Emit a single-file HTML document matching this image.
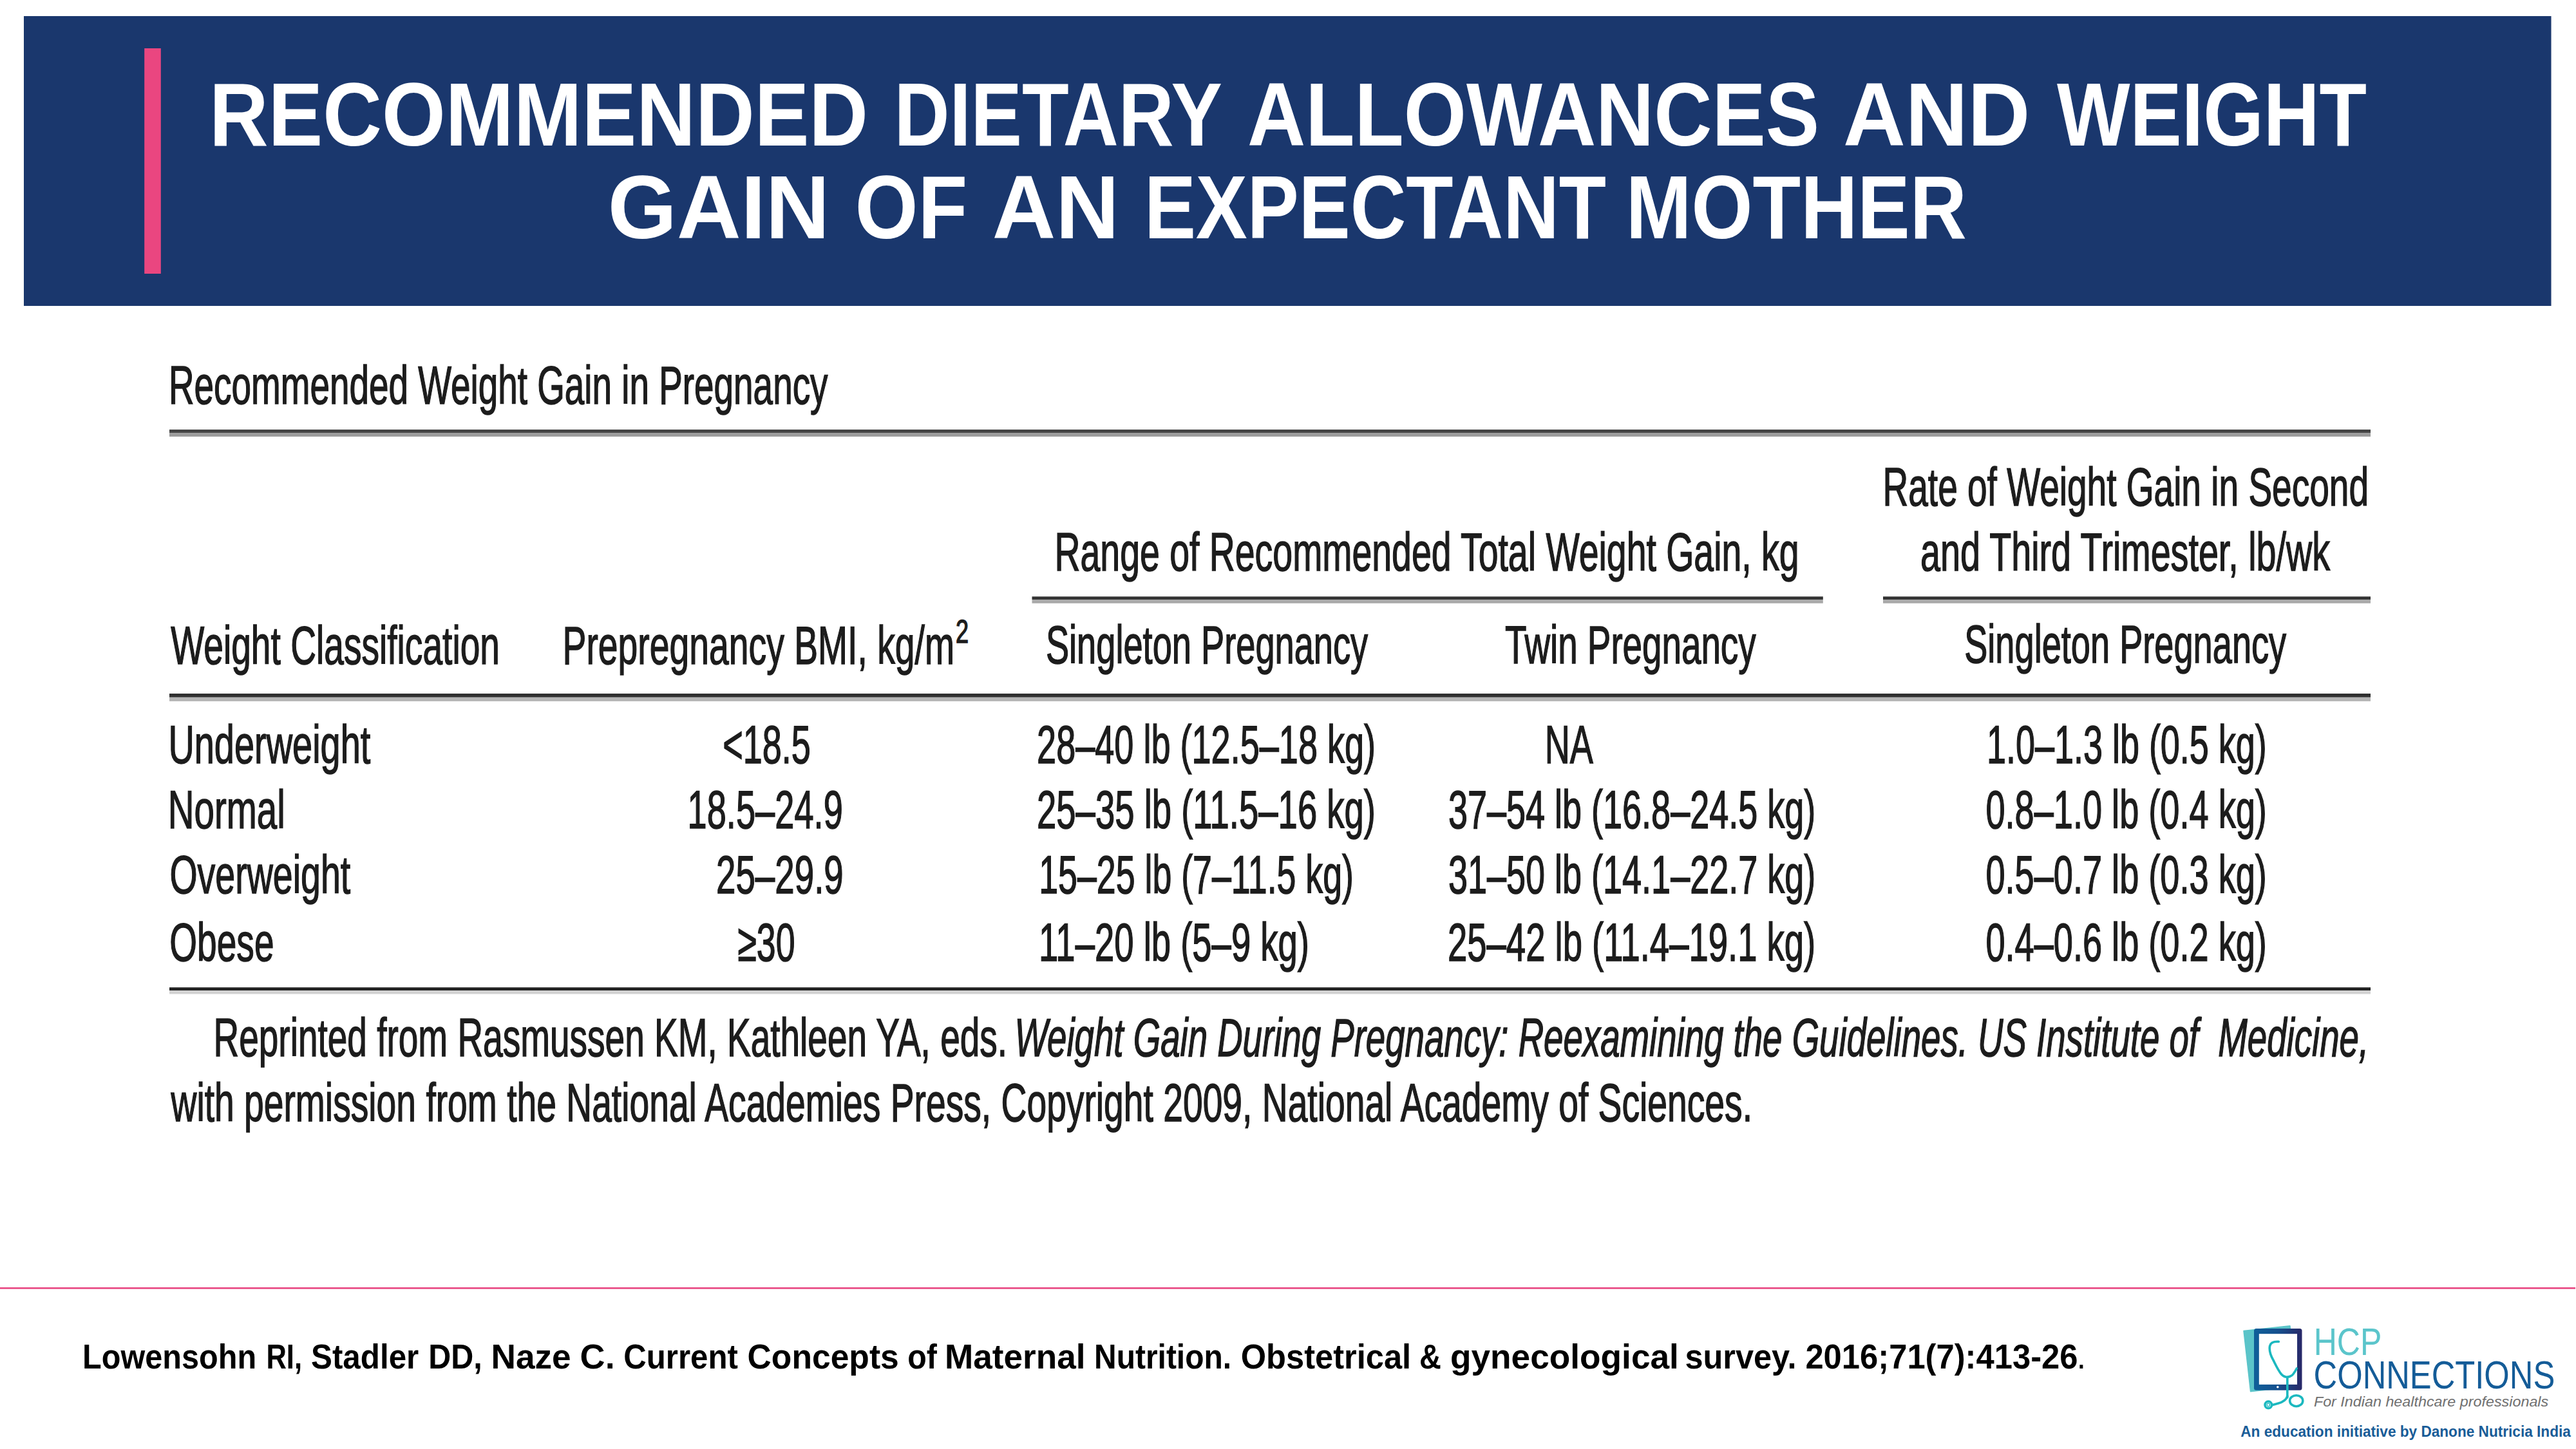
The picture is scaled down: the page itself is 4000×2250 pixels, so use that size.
<!DOCTYPE html>
<html><head><meta charset="utf-8"><title>Recommended Dietary Allowances and Weight Gain of an Expectant Mother</title>
<style>
html,body{margin:0;padding:0;background:#fff;}
body{width:4000px;height:2250px;overflow:hidden;position:relative;}
svg{position:absolute;left:0;top:0;display:block;}
text{font-family:"Liberation Sans",Arial,sans-serif;white-space:pre;}
.ttl{font-weight:bold;fill:#fff;}
.t{fill:#1c1c1c;stroke:#1c1c1c;stroke-width:1.5px;}
.ti{fill:#1c1c1c;font-style:italic;stroke:#1c1c1c;stroke-width:1.5px;}
.cit{font-weight:bold;fill:#000;}
.citn{fill:#000;}
.lg1{fill:#5bc5cb;}
.lg2{fill:#145c98;}
.lg3{fill:#707070;font-style:italic;}
.lg4{fill:#195c97;font-weight:bold;}
</style></head>
<body>
<svg width="4000" height="2250" viewBox="0 0 4000 2250">
<rect x="37" y="25" width="3924.5" height="450" fill="#1a376d"/>
<rect x="224.2" y="75" width="25.6" height="350" fill="#ea4680"/>
<rect x="263" y="667" width="3418" height="5" fill="#444"/>
<rect x="263" y="672" width="3418" height="6" fill="#9c9c9c"/>
<rect x="1602.5" y="926.3" width="1228.3" height="4.7" fill="#333"/>
<rect x="1602.5" y="931" width="1228.3" height="5.8" fill="#aaa"/>
<rect x="2924" y="926.3" width="757" height="4.7" fill="#333"/>
<rect x="2924" y="931" width="757" height="5.8" fill="#aaa"/>
<rect x="263" y="1077" width="3418" height="5.8" fill="#303030"/>
<rect x="263" y="1082.8" width="3418" height="6.1" fill="#b5b5b5"/>
<rect x="263" y="1533.2" width="3418" height="4.8" fill="#222"/>
<rect x="263" y="1538.3" width="3418" height="5.2" fill="#d2d2d2"/>
<rect x="0" y="1999" width="3999" height="2.5" fill="#e8417e"/>
<defs><linearGradient id="tg" x1="0" y1="0" x2="1" y2="0"><stop offset="0" stop-color="#0f5f99"/><stop offset="0.5" stop-color="#15508e"/><stop offset="1" stop-color="#282868"/></linearGradient></defs>
<polygon points="3484,2066.6 3555.9,2058.8 3566.5,2152.9 3494.6,2160.7" fill="#5bc4c9" stroke="#5bc4c9" stroke-width="1.5" stroke-linejoin="round"/>
<rect x="3500" y="2062.9" width="74.5" height="95.8" rx="3.5" fill="url(#tg)"/>
<rect x="3507.8" y="2071.2" width="59.2" height="78.7" fill="#fff"/>
<circle cx="3536.8" cy="2153.7" r="1.8" fill="#fff"/>
<g fill="none" stroke="#1bb8bf" stroke-width="3.6" stroke-linecap="round" stroke-linejoin="round">
<path d="M3538.3,2083.3 C3531,2082.8 3525.8,2084.5 3524.6,2090 C3523.2,2097 3526.5,2106 3530,2112.1 C3533,2118 3537,2127 3542.4,2133.8 C3545.5,2137.3 3548,2138.2 3550.7,2138.2 C3555,2138.2 3558.5,2137 3561,2133.5 C3563.5,2130 3565,2127.5 3566.3,2125"/>
<path d="M3551.8,2139 L3551.8,2170"/>
<ellipse cx="3565.7" cy="2175.2" rx="10.1" ry="8.5"/>
<path d="M3551.8,2168 C3550,2174 3545,2177 3538,2179 C3534,2180.2 3531,2181 3529,2181.4"/>
<circle cx="3522.3" cy="2181.4" r="5.3"/>
</g>
<circle cx="3522.3" cy="2181.4" r="2.2" fill="none" stroke="#1bb8bf" stroke-width="1.2"/>

<text class="ttl" x="324.9" y="226.3" font-size="139.5" textLength="1023.2" lengthAdjust="spacingAndGlyphs">RECOMMENDED</text>
<text class="ttl" x="1388.5" y="226.3" font-size="139.5" textLength="509.3" lengthAdjust="spacingAndGlyphs">DIETARY</text>
<text class="ttl" x="1937.0" y="226.3" font-size="139.5" textLength="888.1" lengthAdjust="spacingAndGlyphs">ALLOWANCES</text>
<text class="ttl" x="2861.9" y="226.3" font-size="139.5" textLength="290.3" lengthAdjust="spacingAndGlyphs">AND</text>
<text class="ttl" x="3194.0" y="226.3" font-size="139.5" textLength="481.0" lengthAdjust="spacingAndGlyphs">WEIGHT</text>
<text class="ttl" x="943.8" y="369.7" font-size="139.5" textLength="344.6" lengthAdjust="spacingAndGlyphs">GAIN</text>
<text class="ttl" x="1327.7" y="369.7" font-size="139.5" textLength="174.5" lengthAdjust="spacingAndGlyphs">OF</text>
<text class="ttl" x="1540.7" y="369.7" font-size="139.5" textLength="196.9" lengthAdjust="spacingAndGlyphs">AN</text>
<text class="ttl" x="1776.9" y="369.7" font-size="139.5" textLength="717.1" lengthAdjust="spacingAndGlyphs">EXPECTANT</text>
<text class="ttl" x="2524.8" y="369.7" font-size="139.5" textLength="529.2" lengthAdjust="spacingAndGlyphs">MOTHER</text>
<text class="t" x="262.0" y="627.0" font-size="82.5" textLength="1023.5" lengthAdjust="spacingAndGlyphs">Recommended Weight Gain in Pregnancy</text>
<text class="t" x="2923.5" y="785.0" font-size="82.5" textLength="754.5" lengthAdjust="spacingAndGlyphs">Rate of Weight Gain in Second</text>
<text class="t" x="1637.5" y="886.0" font-size="82.5" textLength="1156.1" lengthAdjust="spacingAndGlyphs">Range of Recommended Total Weight Gain, kg</text>
<text class="t" x="2982.0" y="886.0" font-size="82.5" textLength="636.0" lengthAdjust="spacingAndGlyphs">and Third Trimester, lb/wk</text>
<text class="t" x="265.2" y="1031.0" font-size="82.5" textLength="510.8" lengthAdjust="spacingAndGlyphs">Weight Classification</text>
<text class="t" x="873.5" y="1031.0" font-size="82.5" textLength="608.5" lengthAdjust="spacingAndGlyphs">Prepregnancy BMI, kg/m</text>
<text class="t" x="1483.9" y="998.0" font-size="49.5" textLength="20.1" lengthAdjust="spacingAndGlyphs">2</text>
<text class="t" x="1623.9" y="1030.0" font-size="82.5" textLength="500.3" lengthAdjust="spacingAndGlyphs">Singleton Pregnancy</text>
<text class="t" x="2337.1" y="1030.0" font-size="82.5" textLength="389.5" lengthAdjust="spacingAndGlyphs">Twin Pregnancy</text>
<text class="t" x="3050.2" y="1029.0" font-size="82.5" textLength="500.0" lengthAdjust="spacingAndGlyphs">Singleton Pregnancy</text>
<text class="t" x="261.4" y="1184.5" font-size="82.5" textLength="313.9" lengthAdjust="spacingAndGlyphs">Underweight</text>
<text class="t" x="260.8" y="1286.0" font-size="82.5" textLength="181.9" lengthAdjust="spacingAndGlyphs">Normal</text>
<text class="t" x="263.4" y="1387.0" font-size="82.5" textLength="280.8" lengthAdjust="spacingAndGlyphs">Overweight</text>
<text class="t" x="263.3" y="1492.0" font-size="82.5" textLength="162.2" lengthAdjust="spacingAndGlyphs">Obese</text>
<text class="t" x="1122.2" y="1184.5" font-size="82.5" textLength="136.7" lengthAdjust="spacingAndGlyphs">&lt;18.5</text>
<text class="t" x="1067.5" y="1286.0" font-size="82.5" textLength="241.3" lengthAdjust="spacingAndGlyphs">18.5–24.9</text>
<text class="t" x="1112.0" y="1387.0" font-size="82.5" textLength="197.8" lengthAdjust="spacingAndGlyphs">25–29.9</text>
<text class="t" x="1145.3" y="1492.0" font-size="82.5" textLength="89.3" lengthAdjust="spacingAndGlyphs">≥30</text>
<text class="t" x="1610.1" y="1184.5" font-size="82.5" textLength="526.0" lengthAdjust="spacingAndGlyphs">28–40 lb (12.5–18 kg)</text>
<text class="t" x="1610.0" y="1286.0" font-size="82.5" textLength="526.0" lengthAdjust="spacingAndGlyphs">25–35 lb (11.5–16 kg)</text>
<text class="t" x="1613.2" y="1387.0" font-size="82.5" textLength="488.8" lengthAdjust="spacingAndGlyphs">15–25 lb (7–11.5 kg)</text>
<text class="t" x="1613.1" y="1492.0" font-size="82.5" textLength="419.9" lengthAdjust="spacingAndGlyphs">11–20 lb (5–9 kg)</text>
<text class="t" x="2398.8" y="1184.5" font-size="82.5" textLength="75.1" lengthAdjust="spacingAndGlyphs">NA</text>
<text class="t" x="2249.0" y="1286.0" font-size="82.5" textLength="570.2" lengthAdjust="spacingAndGlyphs">37–54 lb (16.8–24.5 kg)</text>
<text class="t" x="2249.0" y="1387.0" font-size="82.5" textLength="570.2" lengthAdjust="spacingAndGlyphs">31–50 lb (14.1–22.7 kg)</text>
<text class="t" x="2248.0" y="1492.0" font-size="82.5" textLength="571.2" lengthAdjust="spacingAndGlyphs">25–42 lb (11.4–19.1 kg)</text>
<text class="t" x="3084.9" y="1184.5" font-size="82.5" textLength="434.9" lengthAdjust="spacingAndGlyphs">1.0–1.3 lb (0.5 kg)</text>
<text class="t" x="3083.4" y="1286.0" font-size="82.5" textLength="436.5" lengthAdjust="spacingAndGlyphs">0.8–1.0 lb (0.4 kg)</text>
<text class="t" x="3083.4" y="1387.0" font-size="82.5" textLength="436.5" lengthAdjust="spacingAndGlyphs">0.5–0.7 lb (0.3 kg)</text>
<text class="t" x="3083.4" y="1492.0" font-size="82.5" textLength="436.5" lengthAdjust="spacingAndGlyphs">0.4–0.6 lb (0.2 kg)</text>
<text class="t" x="331.5" y="1640.0" font-size="82.5" textLength="1232.6" lengthAdjust="spacingAndGlyphs">Reprinted from Rasmussen KM, Kathleen YA, eds.</text>
<text class="ti" x="1575.5" y="1640.0" font-size="82.5" textLength="2102.6" lengthAdjust="spacingAndGlyphs">Weight Gain During Pregnancy: Reexamining the Guidelines. US Institute of  Medicine,</text>
<text class="t" x="265.5" y="1741.0" font-size="82.5" textLength="2455.5" lengthAdjust="spacingAndGlyphs">with permission from the National Academies Press, Copyright 2009, National Academy of Sciences.</text>
<text class="cit" x="128.1" y="2125.2" font-size="53.0" textLength="270.1" lengthAdjust="spacingAndGlyphs">Lowensohn</text>
<text class="cit" x="413.4" y="2125.2" font-size="53.0" textLength="55.7" lengthAdjust="spacingAndGlyphs">RI,</text>
<text class="cit" x="483.0" y="2125.2" font-size="53.0" textLength="167.3" lengthAdjust="spacingAndGlyphs">Stadler</text>
<text class="cit" x="665.2" y="2125.2" font-size="53.0" textLength="83.5" lengthAdjust="spacingAndGlyphs">DD,</text>
<text class="cit" x="762.5" y="2125.2" font-size="53.0" textLength="124.2" lengthAdjust="spacingAndGlyphs">Naze</text>
<text class="cit" x="900.6" y="2125.2" font-size="53.0" textLength="54.1" lengthAdjust="spacingAndGlyphs">C.</text>
<text class="cit" x="968.2" y="2125.2" font-size="53.0" textLength="177.7" lengthAdjust="spacingAndGlyphs">Current</text>
<text class="cit" x="1160.6" y="2125.2" font-size="53.0" textLength="235.2" lengthAdjust="spacingAndGlyphs">Concepts</text>
<text class="cit" x="1409.2" y="2125.2" font-size="53.0" textLength="45.7" lengthAdjust="spacingAndGlyphs">of</text>
<text class="cit" x="1467.0" y="2125.2" font-size="53.0" textLength="218.5" lengthAdjust="spacingAndGlyphs">Maternal</text>
<text class="cit" x="1699.1" y="2125.2" font-size="53.0" textLength="212.9" lengthAdjust="spacingAndGlyphs">Nutrition.</text>
<text class="cit" x="1926.7" y="2125.2" font-size="53.0" textLength="264.5" lengthAdjust="spacingAndGlyphs">Obstetrical</text>
<text class="cit" x="2204.1" y="2125.2" font-size="53.0" textLength="33.9" lengthAdjust="spacingAndGlyphs">&amp;</text>
<text class="cit" x="2252.0" y="2125.2" font-size="53.0" textLength="354.9" lengthAdjust="spacingAndGlyphs">gynecological</text>
<text class="cit" x="2616.4" y="2125.2" font-size="53.0" textLength="173.1" lengthAdjust="spacingAndGlyphs">survey.</text>
<text class="cit" x="2803.4" y="2125.2" font-size="53.0" textLength="423.1" lengthAdjust="spacingAndGlyphs">2016;71(7):413-26</text>
<text class="citn" x="3224.5" y="2125.2" font-size="53.0" textLength="14.7" lengthAdjust="spacingAndGlyphs">.</text>
<text class="lg1" x="3592.7" y="2104.3" font-size="58.6" textLength="105.6" lengthAdjust="spacingAndGlyphs">HCP</text>
<text class="lg2" x="3592.6" y="2156.4" font-size="60.3" textLength="374.6" lengthAdjust="spacingAndGlyphs">CONNECTIONS</text>
<text class="lg3" x="3592.9" y="2184.3" font-size="22.5" textLength="364.3" lengthAdjust="spacingAndGlyphs">For Indian healthcare professionals</text>
<text class="lg4" x="3479.3" y="2230.6" font-size="24.3" textLength="512.5" lengthAdjust="spacingAndGlyphs">An education initiative by Danone Nutricia India</text>
</svg>
</body></html>
